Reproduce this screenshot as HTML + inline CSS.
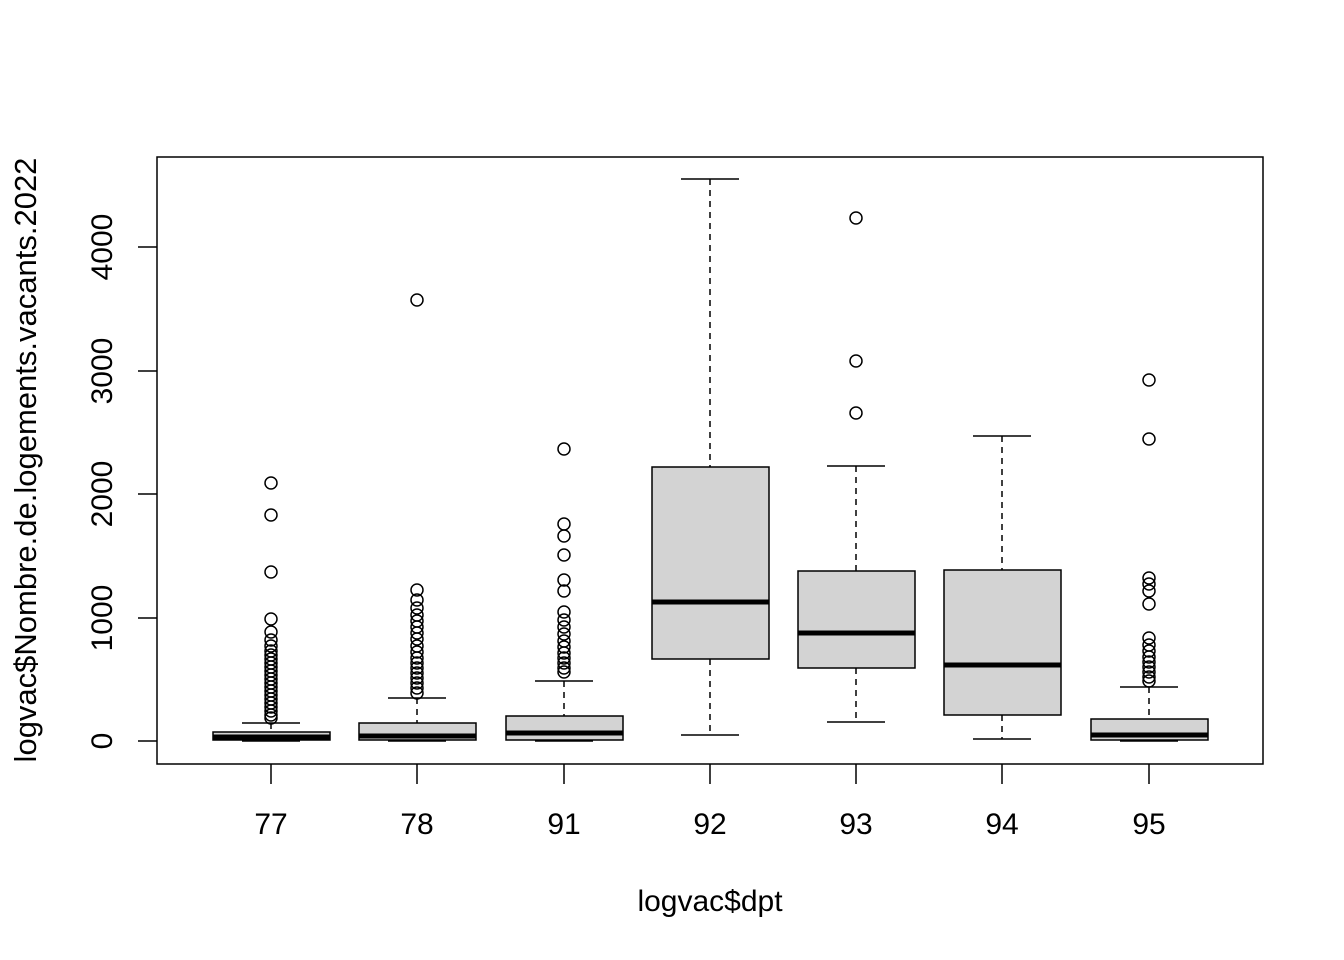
<!DOCTYPE html>
<html><head><style>body{margin:0;background:#fff}svg{display:block}text{font-family:"Liberation Sans",Arial,sans-serif;fill:#000}</style></head>
<body>
<svg width="1344" height="960" viewBox="0 0 1344 960" xmlns="http://www.w3.org/2000/svg">
<rect x="157" y="157" width="1106" height="607" fill="none" stroke="#000" stroke-width="1.5"/>
<g stroke="#000" stroke-width="1.5">
<line x1="138" y1="741" x2="157" y2="741"/><line x1="138" y1="618" x2="157" y2="618"/><line x1="138" y1="494" x2="157" y2="494"/><line x1="138" y1="371" x2="157" y2="371"/><line x1="138" y1="247" x2="157" y2="247"/>
<line x1="271" y1="764" x2="271" y2="784"/><line x1="417" y1="764" x2="417" y2="784"/><line x1="564" y1="764" x2="564" y2="784"/><line x1="710" y1="764" x2="710" y2="784"/><line x1="856" y1="764" x2="856" y2="784"/><line x1="1002" y1="764" x2="1002" y2="784"/><line x1="1149" y1="764" x2="1149" y2="784"/>
</g>
<g font-size="30" text-anchor="middle">
<text transform="translate(112,741) rotate(-90)">0</text>
<text transform="translate(112,618) rotate(-90)">1000</text>
<text transform="translate(112,494) rotate(-90)">2000</text>
<text transform="translate(112,371) rotate(-90)">3000</text>
<text transform="translate(112,247) rotate(-90)">4000</text>
<text x="271" y="834">77</text><text x="417" y="834">78</text><text x="564" y="834">91</text><text x="710" y="834">92</text><text x="856" y="834">93</text><text x="1002" y="834">94</text><text x="1149" y="834">95</text>
<text x="710" y="911">logvac$dpt</text>
<text transform="translate(36,460) rotate(-90)" font-size="31">logvac$Nombre.de.logements.vacants.2022</text>
</g>
<g stroke="#000" stroke-width="1.5" fill="none">
<g stroke-dasharray="6,5">
<line x1="271" y1="723" x2="271" y2="733"/>
<line x1="417" y1="698" x2="417" y2="723"/>
<line x1="564" y1="681" x2="564" y2="716"/>
<line x1="710" y1="179" x2="710" y2="467"/><line x1="710" y1="659" x2="710" y2="735"/>
<line x1="856" y1="466" x2="856" y2="571"/><line x1="856" y1="668" x2="856" y2="722"/>
<line x1="1002" y1="436" x2="1002" y2="570"/><line x1="1002" y1="715" x2="1002" y2="739"/>
<line x1="1149" y1="687" x2="1149" y2="719"/>
</g>
<line x1="242" y1="723" x2="300" y2="723"/><line x1="242" y1="741" x2="300" y2="741"/>
<line x1="388" y1="698" x2="446" y2="698"/><line x1="388" y1="741" x2="446" y2="741"/>
<line x1="535" y1="681" x2="593" y2="681"/><line x1="535" y1="741" x2="593" y2="741"/>
<line x1="681" y1="179" x2="739" y2="179"/><line x1="681" y1="735" x2="739" y2="735"/>
<line x1="827" y1="466" x2="885" y2="466"/><line x1="827" y1="722" x2="885" y2="722"/>
<line x1="973" y1="436" x2="1031" y2="436"/><line x1="973" y1="739" x2="1031" y2="739"/>
<line x1="1120" y1="687" x2="1178" y2="687"/><line x1="1120" y1="741" x2="1178" y2="741"/>
</g>
<g stroke="#000" stroke-width="1.5" fill="#d3d3d3">
<rect x="213" y="732" width="117" height="8"/>
<rect x="359" y="723" width="117" height="17"/>
<rect x="506" y="716" width="117" height="24"/>
<rect x="652" y="467" width="117" height="192"/>
<rect x="798" y="571" width="117" height="97"/>
<rect x="944" y="570" width="117" height="145"/>
<rect x="1091" y="719" width="117" height="21"/>
</g>
<g stroke="#000" stroke-width="5">
<line x1="213" y1="737" x2="330" y2="737"/>
<line x1="359" y1="736" x2="476" y2="736"/>
<line x1="506" y1="733" x2="623" y2="733"/>
<line x1="652" y1="602" x2="769" y2="602"/>
<line x1="798" y1="633" x2="915" y2="633"/>
<line x1="944" y1="665" x2="1061" y2="665"/>
<line x1="1091" y1="735" x2="1208" y2="735"/>
</g>
<g stroke="#000" stroke-width="1.5" fill="none">
<circle cx="271" cy="483" r="6"/><circle cx="271" cy="515" r="6"/><circle cx="271" cy="572" r="6"/><circle cx="271" cy="619" r="6"/><circle cx="271" cy="632" r="6"/>
<circle cx="271" cy="640" r="6"/><circle cx="271" cy="646" r="6"/><circle cx="271" cy="651" r="6"/><circle cx="271" cy="655" r="6"/><circle cx="271" cy="659" r="6"/><circle cx="271" cy="663" r="6"/><circle cx="271" cy="667" r="6"/><circle cx="271" cy="671" r="6"/><circle cx="271" cy="675" r="6"/><circle cx="271" cy="679" r="6"/><circle cx="271" cy="683" r="6"/><circle cx="271" cy="687" r="6"/><circle cx="271" cy="691" r="6"/><circle cx="271" cy="695" r="6"/><circle cx="271" cy="699" r="6"/><circle cx="271" cy="703" r="6"/><circle cx="271" cy="707" r="6"/><circle cx="271" cy="711" r="6"/><circle cx="271" cy="715" r="6"/><circle cx="271" cy="718" r="6"/>
<circle cx="417" cy="300" r="6"/><circle cx="417" cy="590" r="6"/><circle cx="417" cy="600" r="6"/><circle cx="417" cy="608" r="6"/><circle cx="417" cy="615" r="6"/><circle cx="417" cy="621" r="6"/><circle cx="417" cy="627" r="6"/><circle cx="417" cy="633" r="6"/><circle cx="417" cy="639" r="6"/><circle cx="417" cy="646" r="6"/><circle cx="417" cy="652" r="6"/><circle cx="417" cy="658" r="6"/><circle cx="417" cy="663" r="6"/><circle cx="417" cy="668" r="6"/><circle cx="417" cy="673" r="6"/><circle cx="417" cy="678" r="6"/><circle cx="417" cy="683" r="6"/><circle cx="417" cy="688" r="6"/><circle cx="417" cy="693" r="6"/>
<circle cx="564" cy="449" r="6"/><circle cx="564" cy="524" r="6"/><circle cx="564" cy="536" r="6"/><circle cx="564" cy="555" r="6"/><circle cx="564" cy="580" r="6"/><circle cx="564" cy="591" r="6"/><circle cx="564" cy="612" r="6"/><circle cx="564" cy="620" r="6"/><circle cx="564" cy="627" r="6"/><circle cx="564" cy="634" r="6"/><circle cx="564" cy="641" r="6"/><circle cx="564" cy="647" r="6"/><circle cx="564" cy="653" r="6"/><circle cx="564" cy="658" r="6"/><circle cx="564" cy="663" r="6"/><circle cx="564" cy="668" r="6"/><circle cx="564" cy="672" r="6"/>
<circle cx="856" cy="218" r="6"/><circle cx="856" cy="361" r="6"/><circle cx="856" cy="413" r="6"/>
<circle cx="1149" cy="380" r="6"/><circle cx="1149" cy="439" r="6"/><circle cx="1149" cy="578" r="6"/><circle cx="1149" cy="584" r="6"/><circle cx="1149" cy="591" r="6"/><circle cx="1149" cy="604" r="6"/><circle cx="1149" cy="638" r="6"/><circle cx="1149" cy="645" r="6"/><circle cx="1149" cy="651" r="6"/><circle cx="1149" cy="657" r="6"/><circle cx="1149" cy="662" r="6"/><circle cx="1149" cy="667" r="6"/><circle cx="1149" cy="672" r="6"/><circle cx="1149" cy="677" r="6"/><circle cx="1149" cy="681" r="6"/>
</g>
</svg>
</body></html>
